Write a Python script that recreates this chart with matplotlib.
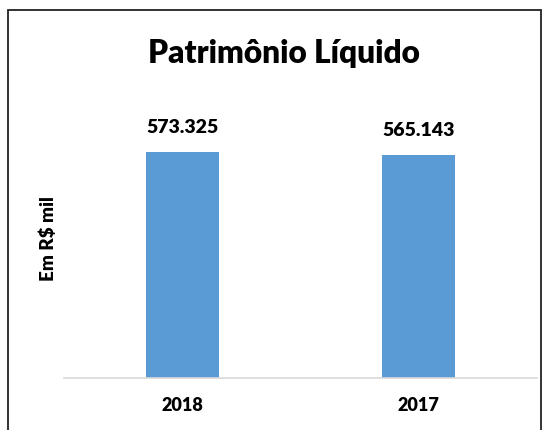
import matplotlib
matplotlib.use("Agg")
import matplotlib.pyplot as plt
from matplotlib.patches import Rectangle

categories = ["2018", "2017"]
values = [573.325, 565.143]
value_labels = ["573.325", "565.143"]

plt.rcParams['font.family'] = ['Lato', 'DejaVu Sans']
WEIGHT = 800

W, H = 548, 430
fig = plt.figure(figsize=(W/100, H/100), dpi=100)

def fx(px): return px / W
def fy(py): return 1 - py / H

ax = fig.add_axes([fx(64), fy(378), fx(537) - fx(64), fy(102) - fy(378)])
x = range(len(categories))
ax.bar(x, values, width=0.31, color="#5B9BD5")
ax.set_xlim(-0.5, 1.5)
ax.set_ylim(0, 700)
for xi, v, lab in zip(x, values, value_labels):
    ax.annotate(lab, (xi, v), xytext=(0, 13.5), textcoords="offset points",
                ha="center", va="baseline", fontsize=14, fontweight=WEIGHT)
ax.set_xticks(list(x))
ax.set_xticklabels(categories, fontsize=13, fontweight=WEIGHT)
ax.tick_params(axis="x", length=0, pad=14)
ax.set_yticks([])
for s in ["top", "right", "left"]:
    ax.spines[s].set_visible(False)
ax.spines["bottom"].set_color("#D9D9D9")
ax.spines["bottom"].set_linewidth(1.2)

fig.text(fx(48), fy(239), "Em R$ mil", rotation=90, ha="center", va="center",
         fontsize=13.5, fontweight=WEIGHT)
fig.text(fx(284), fy(63), "Patrimônio Líquido", ha="center", va="baseline",
         fontsize=22.8, fontweight=WEIGHT)

fig.patches.append(Rectangle((fx(8), fy(440)), fx(541) - fx(8), fy(10) - fy(440),
                             transform=fig.transFigure, fill=False,
                             edgecolor="#222222", linewidth=1.3))

fig.savefig("out.png", dpi=100)
